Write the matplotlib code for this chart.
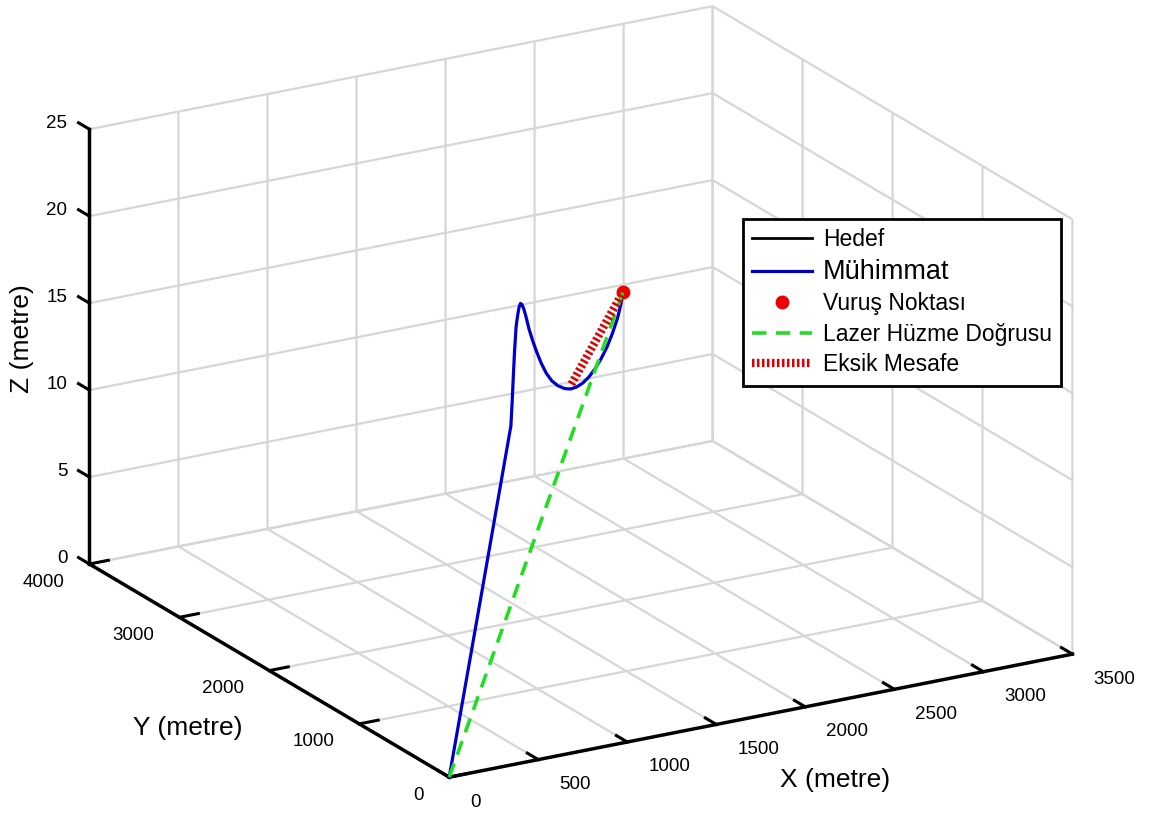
import matplotlib
matplotlib.use("Agg")
import matplotlib.pyplot as plt

plt.rcParams['font.family'] = ['Liberation Sans', 'DejaVu Sans']

# Munition trajectory (metres)
muhimmat_x = [0, 523, 1046, 1067, 1086, 1107, 1134, 1161, 1185, 1209, 1233, 1264, 1302, 1353,
              1413, 1482, 1559, 1644, 1738, 1841, 1953, 2055, 2158, 2261, 2364, 2466, 2569,
              2672, 2766, 2852, 2912, 2946]
muhimmat_y = [0, 692, 1385, 1412, 1437, 1465, 1501, 1537, 1569, 1601, 1632, 1673, 1723, 1791,
              1870, 1961, 2063, 2176, 2301, 2437, 2584, 2720, 2856, 2992, 3128, 3264, 3400,
              3536, 3661, 3774, 3854, 3899]
muhimmat_z = [0, 6.91, 13.84, 15.15, 16.47, 17.78, 19.02, 19.52, 19.83, 19.89, 19.68, 19.24,
              18.55, 17.54, 16.52, 15.44, 14.33, 13.24, 12.23, 11.32, 10.48, 9.83, 9.32, 8.92,
              8.64, 8.47, 8.42, 8.49, 8.71, 9.08, 9.54, 10.0]

# Target (stationary)
hedef_x = [2946, 2946]
hedef_y = [3899, 3899]
hedef_z = [10.0, 10.0]

# Impact point
vurus_x = [2946]
vurus_y = [3899]
vurus_z = [10.0]

# Laser beam line from launcher to target
lazer_x = [0, 2946]
lazer_y = [0, 3899]
lazer_z = [0, 10.0]

# Missing distance segment
eksik_x = [2072, 2946]
eksik_y = [2743, 3899]
eksik_z = [10.0, 10.0]

x_ticks = [0, 500, 1000, 1500, 2000, 2500, 3000, 3500]
y_ticks = [0, 1000, 2000, 3000, 4000]
z_ticks = [0, 5, 10, 15, 20, 25]

XMAX, YMAX, ZMAX = 3500, 4000, 25
TICK_FS = 13.5
LABEL_FS = 19

fig = plt.figure(figsize=(11.49, 8.16), dpi=100)
ax = fig.add_axes([-0.0040, 0.0065, 1, 1], projection='3d', proj_type='ortho')
ax.view_init(elev=20, azim=-120)
ax.set_box_aspect((1, 1, 0.643), zoom=1.33)

ax.plot(hedef_x, hedef_y, hedef_z, color='black', lw=2, label='Hedef')
ax.plot(muhimmat_x, muhimmat_y, muhimmat_z, color='#0000cc', lw=2.3, label='Mühimmat')
ax.plot(vurus_x, vurus_y, vurus_z, 'o', color='#ee0000', ms=9, label='Vuruş Noktası')
ax.plot(lazer_x, lazer_y, lazer_z, color='#22dd22', lw=2.6, ls=(0, (4, 2.6)),
        label='Lazer Hüzme Doğrusu')
ax.plot(eksik_x, eksik_y, eksik_z, color='#dd0000', lw=6, ls=(0, (0.3, 0.3)),
        label='Eksik Mesafe')

ax.set_xlim(0, XMAX)
ax.set_ylim(0, YMAX)
ax.set_zlim(0, ZMAX)
ax.set_xticks(x_ticks)
ax.set_yticks(y_ticks)
ax.set_zticks(z_ticks)
ax.xaxis.set_ticklabels([])
ax.yaxis.set_ticklabels([])
ax.zaxis.set_ticklabels([])

for axis in (ax.xaxis, ax.yaxis, ax.zaxis):
    axis.set_pane_color((1, 1, 1, 0))
    axis.pane.set_edgecolor((1, 1, 1, 0))
    axis._axinfo['grid'].update(color='#d6d6d6', linewidth=1.6)
    axis._axinfo['axisline'].update(color='black', linewidth=2.5)
    axis._axinfo['tick'].update(inward_factor=0.0, outward_factor=0.38,
                                linewidth={True: 2.2, False: 1.0})
    axis.line.set_color('black')
    axis.line.set_linewidth(2.5)

# Z ticks point along the y direction, away from the box
ax.zaxis._get_tickdir = lambda *args, **kwargs: 1

# Tick labels placed beside the axis lines
for xt in x_ticks:
    ax.text(xt, -233, -0.72, str(xt), ha='left', va='center', fontsize=TICK_FS)
for yt in y_ticks:
    ax.text(-141, yt, -0.75, str(yt), ha='right', va='center', fontsize=TICK_FS)
for zt in z_ticks:
    ax.text(-124, YMAX, zt + 0.58, str(zt), ha='right', va='center', fontsize=TICK_FS)

# Axis titles
fig.text(835 / 1149, 1 - 780 / 816, 'X (metre)', ha='center', va='center', fontsize=LABEL_FS)
fig.text(188 / 1149, 1 - 728 / 816, 'Y (metre)', ha='center', va='center', fontsize=LABEL_FS)
fig.text(22 / 1149, 1 - 339 / 816, 'Z (metre)', ha='center', va='center', fontsize=LABEL_FS,
         rotation=90)

leg = fig.legend(loc='upper left', bbox_to_anchor=(743 / 1149, 1 - 219 / 816), fontsize=16.5,
                 frameon=True, fancybox=False, edgecolor='black', framealpha=1,
                 handlelength=2.6, handletextpad=0.5, borderpad=0.4,
                 labelspacing=0.33, borderaxespad=0)
leg.get_frame().set_linewidth(2)
leg.get_texts()[1].set_fontsize(19.5)

fig.savefig('out.png', dpi=100)
